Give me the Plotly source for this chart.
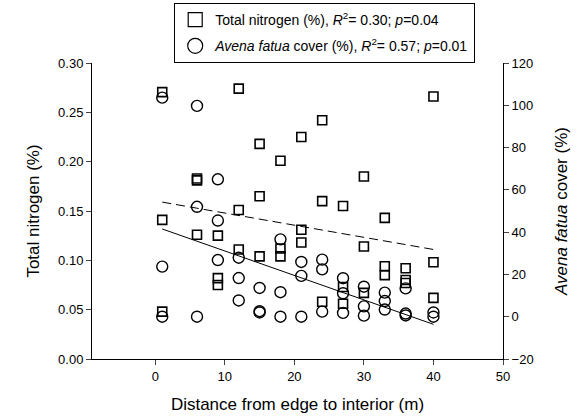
import plotly.graph_objects as go

# Distance (m) and total nitrogen (%) - squares, left axis
n_x = [1, 1, 1, 6, 6, 6, 9, 9, 9, 12, 12, 12, 15, 15, 15, 18, 18, 18,
       21, 21, 21, 24, 24, 24, 27, 27, 27, 30, 30, 30, 33, 33, 33,
       36, 36, 36, 40, 40, 40]
nitrogen = [0.2705, 0.141, 0.048, 0.183, 0.181, 0.126, 0.125, 0.082, 0.075,
            0.274, 0.151, 0.111, 0.218, 0.165, 0.104, 0.201, 0.112, 0.104,
            0.225, 0.131, 0.118, 0.242, 0.160, 0.058, 0.155, 0.073, 0.056,
            0.185, 0.114, 0.067, 0.143, 0.094, 0.085, 0.092, 0.080, 0.077,
            0.266, 0.098, 0.062]

# Distance (m) and Avena fatua cover (%) - circles, right axis
c_x = [1, 1, 1, 6, 6, 6, 9, 9, 9, 12, 12, 12, 15, 15, 15, 18, 18, 18,
       21, 21, 21, 24, 24, 24, 27, 27, 27, 30, 30, 30, 33, 33, 33,
       36, 36, 36, 40, 40]
cover = [103.6, 23.7, 0.0, 99.7, 52.0, 0.0, 65.0, 45.5, 26.8,
         27.9, 18.3, 7.7, 13.6, 2.6, 2.0, 36.6, 11.6, 0.0,
         25.9, 19.3, 0.0, 27.0, 22.4, 2.4, 18.2, 11.1, 1.8,
         14.2, 4.9, 0.5, 11.4, 7.4, 3.4, 13.4, 1.5, 0.6,
         2.0, 0.0]

# Regression line endpoints
fit_x = [1, 40]
nitrogen_fit = [0.159, 0.111]
cover_fit = [41.5, -3.6]

x_ticks = [0, 10, 20, 30, 40, 50]

FONT = "Liberation Sans, Arial, sans-serif"

fig = go.Figure()

fig.add_trace(go.Scatter(
    x=fit_x, y=nitrogen_fit, mode="lines", showlegend=False,
    line=dict(color="black", width=1, dash="9px,5px"), yaxis="y"))
fig.add_trace(go.Scatter(
    x=fit_x, y=cover_fit, mode="lines", showlegend=False,
    line=dict(color="black", width=1), yaxis="y2"))

fig.add_trace(go.Scatter(
    x=n_x, y=nitrogen, mode="markers", showlegend=False,
    marker=dict(symbol="square-open", size=9, color="black", line=dict(width=1.6)),
    yaxis="y"))
fig.add_trace(go.Scatter(
    x=c_x, y=cover, mode="markers", showlegend=False,
    marker=dict(symbol="circle-open", size=11, color="black", line=dict(width=1.4)),
    yaxis="y2"))

# legend entries
fig.add_trace(go.Scatter(
    x=[None], y=[None], mode="markers", legendgroup="a",
    name="Total nitrogen (%), <i>R</i><sup>2</sup>= 0.30; <i>p</i>=0.04",
    marker=dict(symbol="square-open", size=14, color="black", line=dict(width=1.2)),
    yaxis="y"))
fig.add_trace(go.Scatter(
    x=[None], y=[None], mode="markers", legendgroup="b",
    name="<i>Avena fatua</i> cover (%), <i>R</i><sup>2</sup>= 0.57; <i>p</i>=0.01",
    marker=dict(symbol="circle-open", size=15, color="black", line=dict(width=1.2)),
    yaxis="y2"))

fig.update_layout(
    width=582, height=416,
    margin=dict(l=92, r=79, t=63, b=57, autoexpand=False),
    paper_bgcolor="white", plot_bgcolor="white",
    font=dict(family=FONT, size=13, color="black"),
    showlegend=True,
    legend=dict(
        x=0.2, xanchor="left", y=1.0, yanchor="bottom",
        bordercolor="black", borderwidth=1, bgcolor="white",
        font=dict(size=14), itemsizing="trace", tracegroupgap=5,
    ),
    xaxis=dict(
        range=[-9.1, 50], tickvals=x_ticks, ticks="outside", ticklen=5,
        showline=True, linecolor="black", linewidth=1, showgrid=False,
        zeroline=False, tickfont=dict(size=13),
        title=dict(text="Distance from edge to interior (m)", font=dict(size=17), standoff=15),
    ),
    yaxis=dict(
        range=[0, 0.30], dtick=0.05, tickformat=".2f", ticks="outside", ticklen=5,
        showline=True, linecolor="black", linewidth=1, showgrid=False,
        zeroline=False, tickfont=dict(size=13),
        title=dict(text="Total nitrogen (%)", font=dict(size=17), standoff=14),
    ),
    yaxis2=dict(
        range=[-20, 120], dtick=20, ticks="outside", ticklen=5, side="right",
        overlaying="y", showline=True, linecolor="black", linewidth=1,
        showgrid=False, zeroline=False, tickfont=dict(size=13),
        title=dict(text="<i>Avena fatua</i> cover (%)", font=dict(size=17), standoff=22),
    ),
)

fig.write_html("out.html", config={"displayModeBar": False},
               post_script="document.body.style.margin='0';")
